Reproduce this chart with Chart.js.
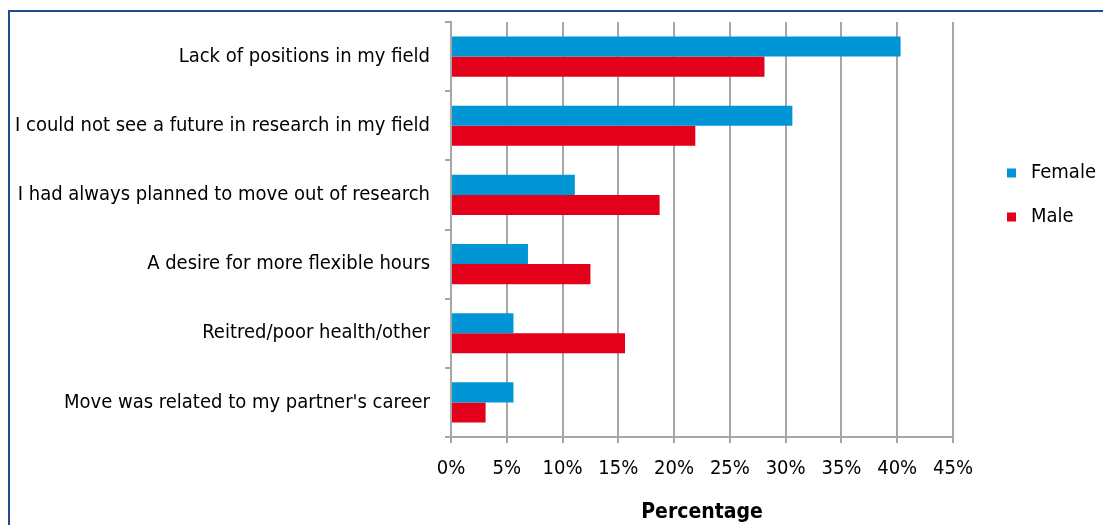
<!DOCTYPE html>
<html>
<head>
<meta charset="utf-8">
<script src="https://cdn.jsdelivr.net/npm/chart.js@4"></script>
<style>
  html, body { margin: 0; padding: 0; background: #fff; }
  #wrap { position: relative; width: 1103px; height: 525px; overflow: hidden; }
  #frame {
    position: absolute; left: 8px; top: 10px; right: -4px; bottom: -4px;
    border-left: 2px solid #1f4e8c; border-top: 2px solid #1f4e8c;
  }
  canvas { position: absolute; left: 0; top: 0; }
</style>
</head>
<body>
<div id="wrap">
  <div id="frame"></div>
  <canvas id="chart" width="1103" height="525"></canvas>
</div>
<script>
  var FONT = "'Liberation Sans Narrow', 'Arial Narrow', 'DejaVu Sans Condensed', sans-serif";

  var reasons = [
    "Lack of positions in my field",
    "I could not see a future in research in my field",
    "I had always planned to move out of research",
    "A desire for more flexible hours",
    "Reitred/poor health/other",
    "Move was related to my partner's career"
  ];
  var female = [40.3, 30.6, 11.1, 6.9, 5.6, 5.6];
  var male = [28.1, 21.9, 18.7, 12.5, 15.6, 3.1];
  var seriesNames = ["Female", "Male"];
  var seriesColors = ["#0096d6", "#e2001a"];

  // legend drawn by hand so it can sit above the middle of the plot
  var sideLegend = {
    id: "sideLegend",
    afterDraw: function (chart) {
      var ctx = chart.ctx;
      ctx.save();
      ctx.font = "20px " + FONT;
      ctx.textBaseline = "middle";
      ctx.textAlign = "left";
      chart.data.datasets.forEach(function (ds, i) {
        var y = 173 + i * 44;
        ctx.fillStyle = ds.backgroundColor;
        ctx.fillRect(1007, y - 4.5, 9, 9);
        ctx.fillStyle = "#000";
        ctx.fillText(ds.label, 1031, y);
      });
      ctx.restore();
    }
  };

  var ctx = document.getElementById("chart").getContext("2d");
  new Chart(ctx, {
    type: "bar",
    data: {
      labels: reasons,
      datasets: [
        { label: seriesNames[0], data: female, backgroundColor: seriesColors[0] },
        { label: seriesNames[1], data: male, backgroundColor: seriesColors[1] }
      ]
    },
    options: {
      indexAxis: "y",
      responsive: false,
      animation: false,
      categoryPercentage: 0.58,
      barPercentage: 1.0,
      layout: { padding: { top: 22, right: 150, left: 0, bottom: 0 } },
      plugins: {
        legend: { display: false },
        tooltip: { enabled: false }
      },
      scales: {
        x: {
          min: 0,
          max: 45,
          ticks: {
            stepSize: 5,
            color: "#000",
            padding: 14,
            font: { family: FONT, size: 20 },
            callback: function (v) { return v + "%"; }
          },
          grid: { color: "#a6a6a6", lineWidth: 2, tickLength: 6 },
          border: { color: "#a6a6a6", width: 2 },
          title: {
            display: true,
            text: "Percentage",
            color: "#000",
            padding: { top: 0, bottom: 0 },
            font: { family: FONT, size: 21, weight: "bold" }
          },
          afterFit: function (scale) {
            scale.height = 88;
            scale.paddingLeft = 0;
            scale.paddingRight = 0;
          }
        },
        y: {
          ticks: {
            color: "#000",
            padding: 15,
            font: { family: FONT, size: 20 }
          },
          grid: { drawOnChartArea: false, color: "#a6a6a6", lineWidth: 2, tickLength: 6, offset: true },
          border: { color: "#a6a6a6", width: 2 },
          afterFit: function (scale) {
            scale.width = 451;
            scale.paddingTop = 0;
            scale.paddingBottom = 0;
          }
        }
      }
    },
    plugins: [sideLegend]
  });
</script>
</body>
</html>
